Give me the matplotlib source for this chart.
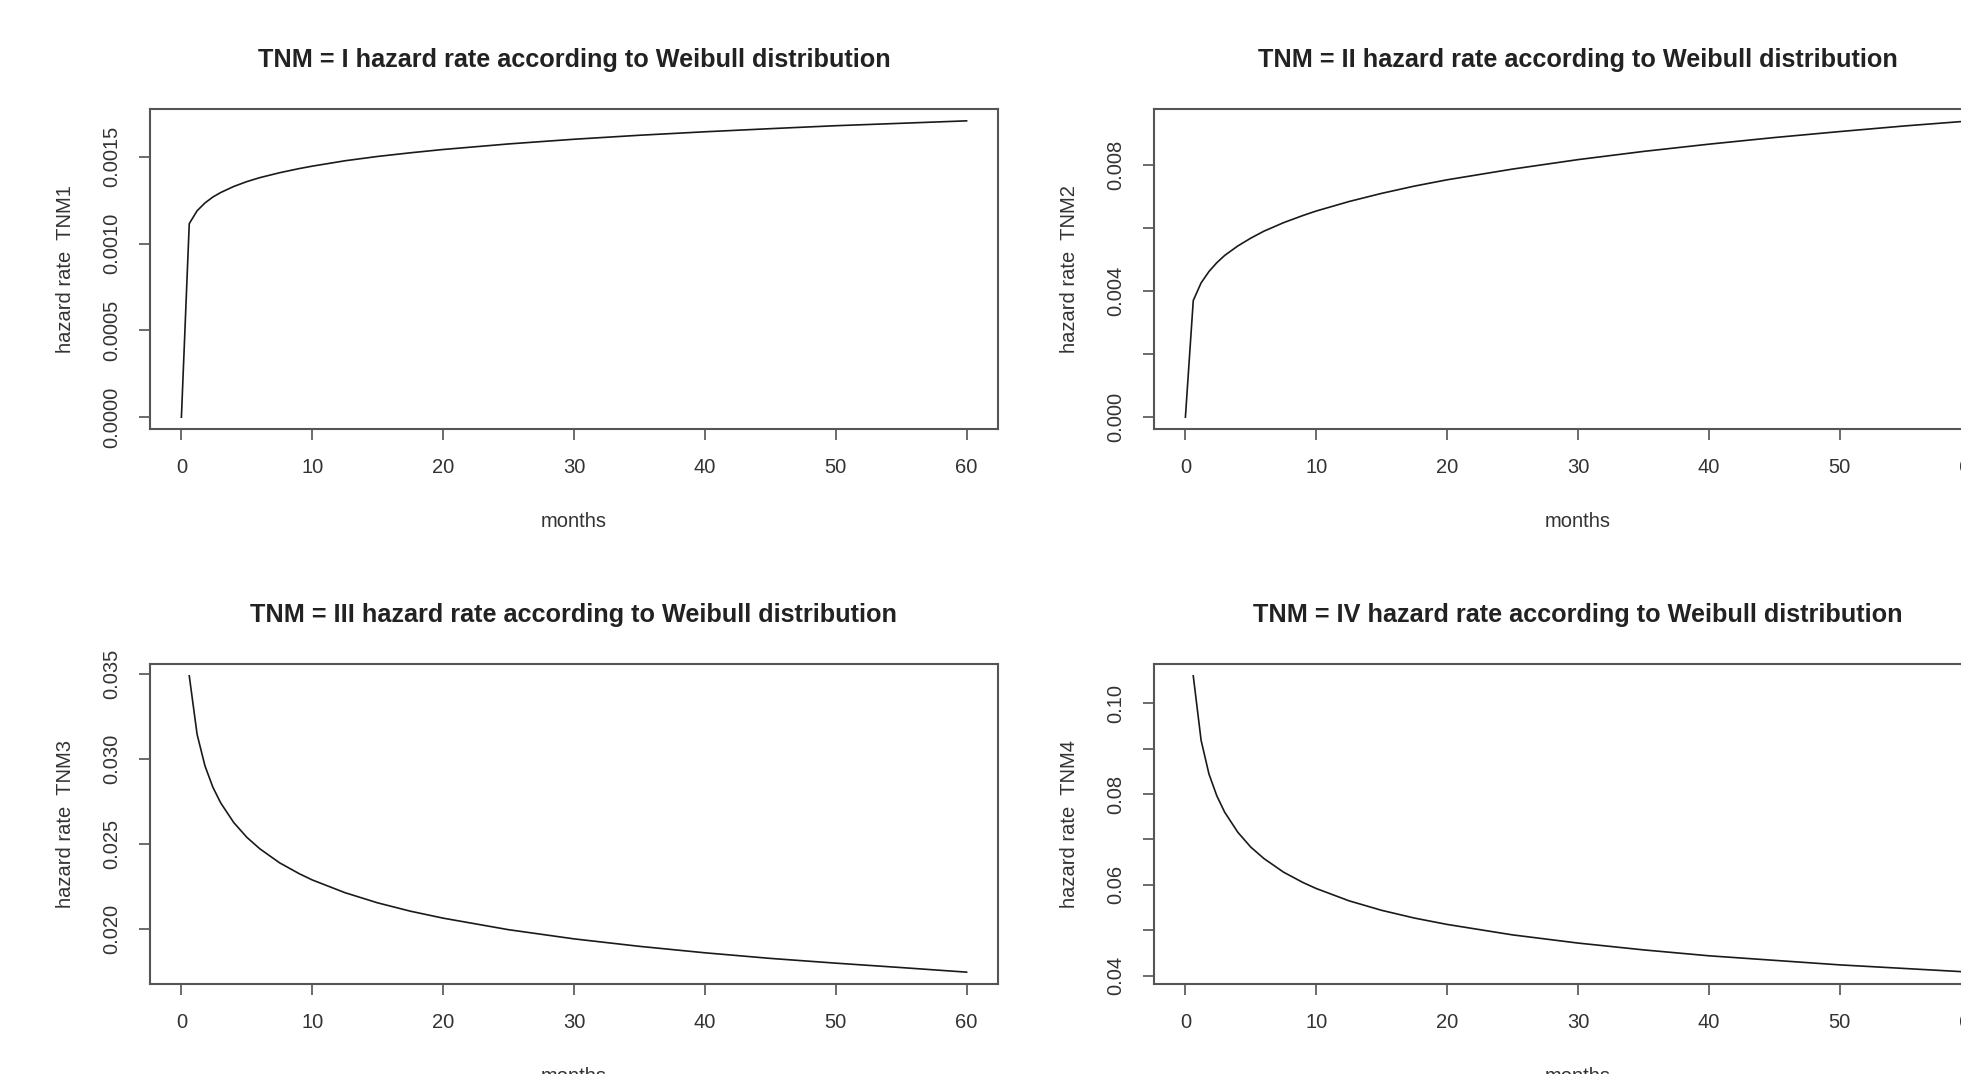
import matplotlib
matplotlib.use('Agg')
from matplotlib import pyplot as plt

plt.rcParams['font.family'] = ['Liberation Sans', 'DejaVu Sans']

# values
months = [0, 0.6, 1.2, 1.8, 2.4, 3, 4, 5, 6, 7.5, 9, 10, 12.5, 15, 17.5, 20,
          25, 30, 35, 40, 45, 50, 55, 60]
tnm1 = [0, 0.001115, 0.001189, 0.001234, 0.001268, 0.001294, 0.001329, 0.001357,
        0.001380, 0.001408, 0.001432, 0.001446, 0.001477, 0.001502, 0.001523, 0.001542,
        0.001574, 0.001601, 0.001624, 0.001644, 0.001662, 0.001679, 0.001693, 0.001707]
tnm2 = [0, 0.00370, 0.00426, 0.00462, 0.00490, 0.00513, 0.00543, 0.00568,
        0.00590, 0.00617, 0.00640, 0.00654, 0.00684, 0.00710, 0.00733, 0.00753,
        0.00787, 0.00817, 0.00843, 0.00866, 0.00887, 0.00906, 0.00924, 0.00940]
# hazard is infinite at 0 for TNM3/TNM4, so those start at the second month value
tnm3 = [0.0349, 0.03145, 0.0296, 0.02835, 0.02742, 0.02626, 0.02539,
        0.02471, 0.02389, 0.02325, 0.02288, 0.02213, 0.02153, 0.02104, 0.02063,
        0.01995, 0.01941, 0.01897, 0.01859, 0.01826, 0.01798, 0.01772, 0.01745]
tnm4 = [0.106, 0.0918, 0.0844, 0.0796, 0.0760, 0.0716, 0.0683,
        0.0658, 0.0628, 0.0605, 0.0592, 0.0565, 0.0544, 0.0527, 0.0513,
        0.0490, 0.0472, 0.0457, 0.0444, 0.0434, 0.0424, 0.0416, 0.0408]

stages = ['I', 'II', 'III', 'IV']
xticks = [0, 10, 20, 30, 40, 50, 60]
yticks = [
    [0, 0.0005, 0.0010, 0.0015],
    [0, 0.002, 0.004, 0.006, 0.008],
    [0.020, 0.025, 0.030, 0.035],
    [0.04, 0.05, 0.06, 0.07, 0.08, 0.09, 0.10],
]
yticklabels = [
    ['0.0000', '0.0005', '0.0010', '0.0015'],
    ['0.000', '', '0.004', '', '0.008'],
    ['0.020', '0.025', '0.030', '0.035'],
    ['0.04', '', '0.06', '', '0.08', '', '0.10'],
]

W, H = 1961, 1074
fig = plt.figure(figsize=(W / 100, H / 100), dpi=100)

# panel boxes in pixels: left, top (right column runs off the page like the reference)
boxes = [(150, 109), (1154, 109), (150, 664), (1154, 664)]
bw, bh = 848, 320

series = [(months, tnm1), (months, tnm2), (months[1:], tnm3), (months[1:], tnm4)]

for i in range(4):
    left, top = boxes[i]
    ax = fig.add_axes([left / W, 1 - (top + bh) / H, bw / W, bh / H])
    x, y = series[i]
    ax.plot(x, y, color='#1a1a1a', lw=1.2)
    ax.set_xlim(-2.4, 62.4)
    ax.margins(y=0.04)

    ax.set_xticks(xticks)
    ax.set_yticks(yticks[i])
    ax.set_yticklabels(yticklabels[i])
    ax.tick_params(direction='out', length=8, width=1.1, color='#444',
                   labelsize=14.5, labelcolor='#333', pad=13)
    ax.tick_params(axis='y', labelrotation=90)
    for lab in ax.get_yticklabels():
        lab.set_verticalalignment('center')

    for s in ax.spines.values():
        s.set_color('#555')
        s.set_linewidth(1.5)

    ax.set_title('TNM = %s hazard rate according to Weibull distribution' % stages[i],
                 fontsize=18.2, fontweight='bold', color='#222', pad=30)
    ax.set_xlabel('months', fontsize=14.5, color='#333', labelpad=25)
    ax.set_ylabel('hazard rate  TNM%d' % (i + 1), fontsize=14.5, color='#333', labelpad=19)

fig.savefig('out.png', dpi=100)
